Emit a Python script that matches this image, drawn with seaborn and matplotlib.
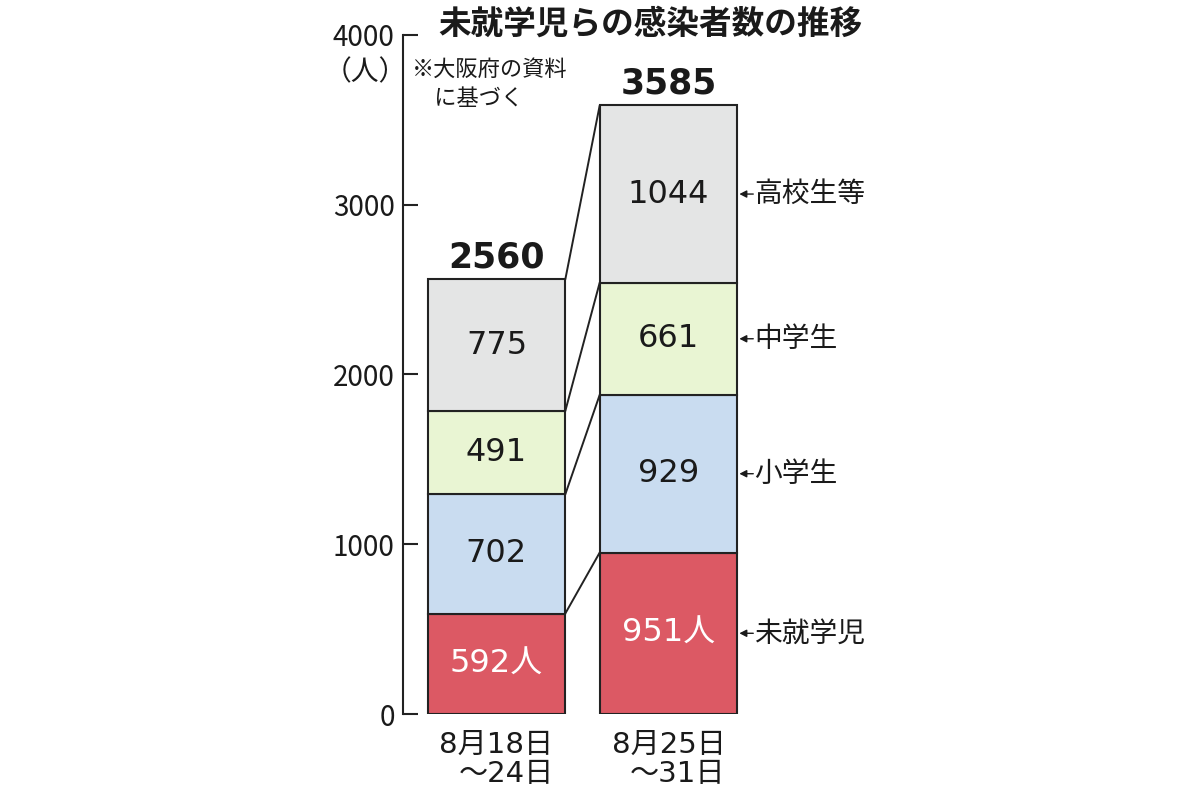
import pandas as pd
import matplotlib
matplotlib.use("Agg")
import matplotlib.pyplot as plt
import seaborn as sns

# Data
periods = ["8月18日\n～24日", "8月25日\n～31日"]
groups = ["未就学児", "小学生", "中学生", "高校生等"]
week1 = [592, 702, 491, 775]
week2 = [951, 929, 661, 1044]
colors = ["#dc5964", "#c9dcf0", "#e9f5d3", "#e4e5e5"]
yticks = [0, 1000, 2000, 3000, 4000]

sns.set_theme(style="white")
plt.rcParams["font.family"] = ["Noto Sans CJK JP", "DejaVu Sans"]
wide = ["DejaVu Sans", "Noto Sans CJK JP"]

frame = pd.DataFrame({
    "period": periods * len(groups),
    "group": [g for g in groups for _ in periods],
    "value": [v for pair in zip(week1, week2) for v in pair],
})
frame["bottom"] = frame.groupby("period")["value"].cumsum() - frame["value"]
frame["top"] = frame["bottom"] + frame["value"]

ink = "#1a1a1a"
fig = plt.figure(figsize=(12, 7.93), dpi=100)
ax = fig.add_axes([403 / 1200, 79 / 793, 497 / 1200, 679 / 793])

half = 0.4
for group, color in zip(groups, colors):
    part = frame[frame["group"] == group]
    sns.barplot(
        x="period", y="value", data=part, bottom=part["bottom"].values,
        color=color, edgecolor="#222222", linewidth=1.5, width=2 * half,
        order=periods, ax=ax, saturation=1,
    )

# connecting lines between the two bars
for group in groups:
    part = frame[frame["group"] == group].set_index("period")
    ax.plot([0 + half, 1 - half],
            [part.loc[periods[0], "top"], part.loc[periods[1], "top"]],
            color="#222222", linewidth=1.4)

# segment labels
for _, row in frame.iterrows():
    i = periods.index(row["period"])
    mid = row["bottom"] + row["value"] / 2
    if row["group"] == groups[0]:
        label, tcolor = f"{row['value']}人", "white"
    else:
        label, tcolor = f"{row['value']}", ink
    ax.text(i, mid, label, ha="center", va="center", fontsize=23,
            color=tcolor, family=wide)

# totals
totals = frame.groupby("period", sort=False)["value"].sum()
for i, p in enumerate(periods):
    ax.annotate(f"{totals[p]}", xy=(i, totals[p]), xytext=(0, 16),
                textcoords="offset points", ha="center", va="center",
                fontsize=25, fontweight="bold", color=ink, family=wide)

# right side labels with arrows
last = frame[frame["period"] == periods[1]]
for _, row in last.iterrows():
    mid = row["bottom"] + row["value"] / 2
    ax.annotate("", xy=(1 + half, mid), xytext=(11.5, 0),
                textcoords="offset points",
                arrowprops=dict(arrowstyle="-|>,head_length=0.35,head_width=0.18",
                                color=ink, lw=1.0, shrinkA=0, shrinkB=1.5,
                                mutation_scale=12))
    ax.annotate(row["group"], xy=(1 + half, mid), xytext=(12, 0),
                textcoords="offset points", ha="left", va="center",
                fontsize=20, color=ink)

ax.set_xlim(-0.5436, 2.346)
ax.set_ylim(0, 4000)
ax.set_yticks(yticks)
ax.set_yticklabels([str(t) for t in yticks])
ax.set_xlabel("")
ax.set_ylabel("")
ax.tick_params(axis="y", direction="in", length=11, width=1.5, pad=6,
               labelsize=20, labelcolor=ink, color="#222222", left=True)
ax.tick_params(axis="x", length=0, pad=12, labelsize=21, labelcolor=ink)
for lab in ax.get_xticklabels():
    lab.set_multialignment("right")
    lab.set_linespacing(1.05)
    lab.set_fontfamily(wide)
for side in ["top", "right", "bottom"]:
    ax.spines[side].set_visible(False)
ax.spines["left"].set_color("#222222")
ax.spines["left"].set_linewidth(1.5)
ax.grid(False)

fig.text(650 / 1200, 1 - 24 / 793, "未就学児らの感染者数の推移", ha="center",
         va="center", fontsize=23.5, fontweight="bold", color=ink)
fig.text(365 / 1200, 1 - 72 / 793, "（人）", ha="center", va="center",
         fontsize=20, color=ink)
fig.text(412 / 1200, 1 - 58 / 793, "※大阪府の資料\n　に基づく", ha="left",
         va="top", fontsize=16, color=ink, linespacing=1.35)

fig.savefig("out.png", dpi=100)
